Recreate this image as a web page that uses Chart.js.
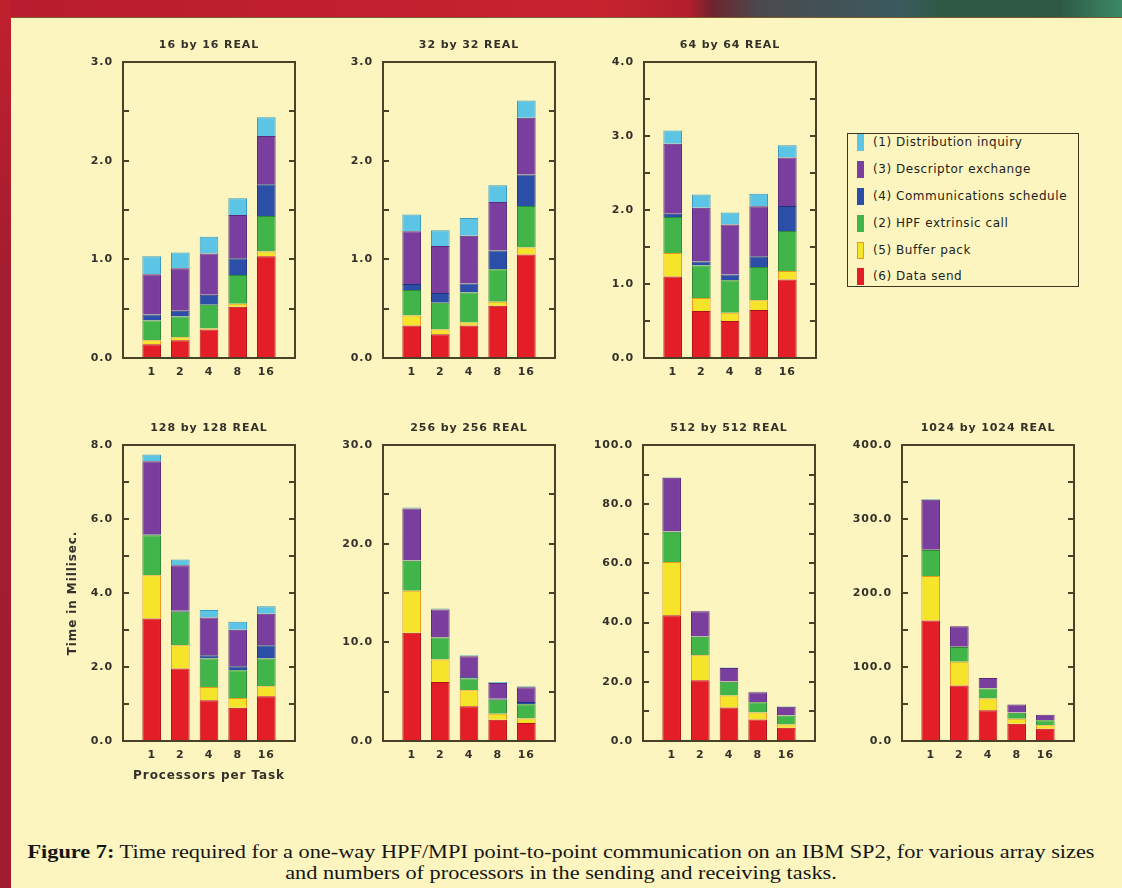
<!DOCTYPE html>
<html>
<head>
<meta charset="utf-8">
<script src="https://cdn.jsdelivr.net/npm/chart.js@4.4.1/dist/chart.umd.min.js"></script>
<style>
html,body{margin:0;padding:0;}
body{width:1122px;height:888px;position:relative;overflow:hidden;background:#fcf5bf;font-family:"DejaVu Sans",sans-serif;}
#topband{position:absolute;left:0;top:0;width:1122px;height:17px;
  background:linear-gradient(90deg,#b81c2e 0px,#c8232f 600px,#b21f2c 690px,#6e2430 712px,#4a4a4e 760px,#3a5a5e 900px,#2f5a46 940px,#2e5a45 1060px,#3c8866 1122px);
  border-bottom:1px solid #7a5a2a;}
#leftband{position:absolute;left:0;top:0;width:11px;height:888px;background:linear-gradient(180deg,#c0202e,#a51d30 30%,#a11c30);}
.pane{position:absolute;}
#legend{position:absolute;left:847px;top:133px;width:230px;height:152px;border:1.5px solid #3d3620;}
.item{position:absolute;left:9px;height:17px;font-size:12px;color:#1e1e1a;letter-spacing:0.55px;white-space:nowrap;}
.sw{position:absolute;left:0;top:0;width:7px;height:17px;box-sizing:border-box;}
.lab{position:absolute;left:16px;top:0px;line-height:16px;}
#caption{position:absolute;left:0;top:842px;width:1122px;text-align:center;font-family:"Liberation Serif",serif;font-size:18px;line-height:21px;color:#151515;transform:scaleX(1.24);transform-origin:561px 0;}
</style>
</head>
<body>
<div id="topband"></div>
<div id="leftband"></div>
<div id="legend"></div>
<div id="caption"><b>Figure 7:</b> Time required for a one-way HPF/MPI point-to-point communication on an IBM SP2, for various array sizes<br>and numbers of processors in the sending and receiving tasks.</div>
<script>
// ---------- data ----------
const procs = ['1', '2', '4', '8', '16'];
const seriesNames = ['(6) Data send', '(5) Buffer pack', '(2) HPF extrinsic call',
                     '(4) Communications schedule', '(3) Descriptor exchange', '(1) Distribution inquiry'];
const legendOrder = [5, 4, 3, 2, 1, 0];
const panelTitles = ['16 by 16 REAL', '32 by 32 REAL', '64 by 64 REAL',
                     '128 by 128 REAL', '256 by 256 REAL', '512 by 512 REAL', '1024 by 1024 REAL'];
const yMaxes = [3, 3, 4, 8, 30, 100, 400];
const yMajors = [1, 1, 1, 2, 10, 20, 100];
const yMinors = [0.5, 0.5, 0.5, 1, 5, 10, 50];

// rows: data send, buffer pack, HPF extrinsic, comm schedule, descriptor exchange, distribution inquiry
const real16 = [
  [0.14, 0.18, 0.29, 0.52, 1.03],
  [0.04, 0.03, 0.01, 0.03, 0.05],
  [0.20, 0.21, 0.24, 0.29, 0.36],
  [0.06, 0.06, 0.10, 0.17, 0.32],
  [0.41, 0.43, 0.42, 0.44, 0.49],
  [0.18, 0.16, 0.17, 0.17, 0.19]
];
const real32 = [
  [0.33, 0.24, 0.33, 0.53, 1.05],
  [0.10, 0.05, 0.03, 0.04, 0.07],
  [0.26, 0.27, 0.305, 0.33, 0.42],
  [0.06, 0.10, 0.09, 0.19, 0.32],
  [0.535, 0.475, 0.485, 0.49, 0.575],
  [0.17, 0.16, 0.18, 0.17, 0.175]
];
const real64 = [
  [1.10, 0.635, 0.50, 0.65, 1.06],
  [0.32, 0.175, 0.11, 0.13, 0.115],
  [0.485, 0.44, 0.44, 0.45, 0.54],
  [0.045, 0.055, 0.08, 0.145, 0.34],
  [0.945, 0.725, 0.675, 0.675, 0.655],
  [0.18, 0.18, 0.16, 0.17, 0.165]
];
const real128 = [
  [3.31, 1.96, 1.10, 0.90, 1.21],
  [1.17, 0.63, 0.36, 0.26, 0.27],
  [1.08, 0.90, 0.77, 0.75, 0.75],
  [0.03, 0.03, 0.09, 0.11, 0.36],
  [1.97, 1.23, 1.02, 0.99, 0.85],
  [0.18, 0.155, 0.20, 0.21, 0.20]
];
const real256 = [
  [10.96, 5.99, 3.52, 2.16, 1.83],
  [4.26, 2.26, 1.62, 0.61, 0.44],
  [3.04, 2.23, 1.19, 1.42, 1.45],
  [0.05, 0.05, 0.15, 0.10, 0.24],
  [5.26, 2.80, 2.11, 1.60, 1.49],
  [0.10, 0.10, 0.10, 0.10, 0.10]
];
const real512 = [
  [42.5, 20.5, 11.3, 7.3, 4.5],
  [18.0, 8.5, 4.1, 2.3, 1.1],
  [10.2, 6.2, 4.6, 3.5, 3.0],
  [0.2, 0.2, 0.1, 0.1, 0.1],
  [18.0, 8.4, 4.6, 3.3, 2.9],
  [0.2, 0.2, 0.1, 0.1, 0.1]
];
const real1024 = [
  [163, 75, 41.5, 23.4, 16.7],
  [60, 32, 16, 6.8, 4.5],
  [35, 20, 13.5, 8.1, 6.8],
  [0.5, 0.5, 0.3, 0.3, 0.2],
  [67.5, 27.5, 13.7, 10.8, 7.2],
  [1, 0.5, 0.3, 0.3, 0.2]
];
const panelData = [real16, real32, real64, real128, real256, real512, real1024];

// ---------- styles / layout ----------
const fills   = ['#e41e26', '#f6e42a', '#41b54a', '#2b4ea8', '#7a3f9e', '#5cc4e4'];
const borders = ['#b01218', '#e89a1a', '#2c8a34', '#1d3478', '#5a2a7a', '#3a9ac0'];
const boxLefts = [123, 383, 644, 123, 383, 643, 902];
const boxTops  = [62, 62, 62, 445, 445, 445, 445];
const BOXW = 172, BOXH = 296, YW = 60, XH = 45, PT = 7, TITLE_PB = 9.8;
const TEXT = '#33312a', FRAME = '#4a4226', LS = '0.9px';

Chart.defaults.font.family = '"DejaVu Sans", sans-serif';
Chart.defaults.font.weight = 'bold';
Chart.defaults.color = TEXT;

const framePlugin = {
  id: 'frame',
  beforeLayout(chart) { chart.ctx.letterSpacing = LS; },
  beforeDraw(chart) { chart.ctx.letterSpacing = LS; },
  afterDatasetsDraw(chart) {
    const {ctx, chartArea: a} = chart;
    const y = chart.scales.y;
    ctx.save();
    ctx.strokeStyle = FRAME;
    ctx.lineWidth = 2;
    ctx.beginPath();
    y.ticks.forEach(t => {
      const py = Math.round(y.getPixelForValue(t.value));
      ctx.moveTo(a.left, py); ctx.lineTo(a.left + 6, py);
      ctx.moveTo(a.right - 6, py); ctx.lineTo(a.right, py);
    });
    ctx.stroke();
    ctx.strokeRect(a.left, a.top, a.right - a.left, a.bottom - a.top);
    ctx.restore();
  }
};

panelData.forEach((rows, p) => {
  const topOverhead = Math.round(PT + 13.2 + TITLE_PB);
  const W = YW + BOXW + YW, H = topOverhead + BOXH + XH;
  const div = document.createElement('div');
  div.className = 'pane';
  div.style.left = (boxLefts[p] - YW) + 'px';
  div.style.top = (boxTops[p] - topOverhead) + 'px';
  div.style.width = W + 'px';
  div.style.height = H + 'px';
  const cv = document.createElement('canvas');
  cv.width = W; cv.height = H;
  cv.style.width = W + 'px'; cv.style.height = H + 'px';
  div.appendChild(cv);
  document.body.appendChild(div);

  const major = yMajors[p];
  const isFirstLower = (p === 3);
  new Chart(cv, {
    type: 'bar',
    data: {
      labels: ['', ...procs, ''],
      datasets: rows.map((vals, s) => ({
        label: seriesNames[s],
        data: [null, ...vals, null],
        backgroundColor: fills[s],
        borderColor: borders[s],
        borderWidth: 1,
        barPercentage: 0.65,
        categoryPercentage: 1
      }))
    },
    options: {
      responsive: false,
      animation: false,
      events: [],
      layout: {padding: {top: PT, left: 0, right: 0, bottom: 0}},
      plugins: {
        legend: {display: false},
        tooltip: {enabled: false},
        title: {display: true, text: panelTitles[p], color: TEXT, align: 'center',
                font: {size: 11, weight: 'bold'}, padding: {top: 0, bottom: TITLE_PB}}
      },
      scales: {
        x: {
          type: 'category', offset: false, stacked: true,
          grid: {display: false, drawTicks: false}, border: {display: false},
          ticks: {padding: 8, color: TEXT, font: {size: 11}, autoSkip: false, maxRotation: 0},
          title: isFirstLower ? {display: true, text: 'Processors per Task', color: TEXT,
                                 font: {size: 12}, padding: {top: 0, bottom: 3}} : {display: false},
          afterFit: s => { s.height = XH; }
        },
        y: {
          stacked: true, min: 0, max: yMaxes[p],
          grid: {display: false, drawTicks: false}, border: {display: false},
          ticks: {stepSize: yMinors[p], padding: 10, color: TEXT, font: {size: 11}, autoSkip: false,
                  callback: v => (Math.abs(v / major - Math.round(v / major)) < 1e-6) ? v.toFixed(1) : ''},
          title: isFirstLower ? {display: true, text: 'Time in Millisec.', color: TEXT,
                                 font: {size: 12}, padding: {top: 3, bottom: 0}} : {display: false},
          afterFit: s => { s.width = YW; }
        },
        yRight: {
          position: 'right', display: true,
          grid: {display: false, drawTicks: false}, border: {display: false},
          ticks: {display: false},
          afterFit: s => { s.width = YW; }
        }
      }
    },
    plugins: [framePlugin]
  });
});

// ---------- legend ----------
const legend = document.getElementById('legend');
const rowTops = [0, 27, 54, 81, 108, 134];
legendOrder.forEach((s, i) => {
  const it = document.createElement('div');
  it.className = 'item';
  it.style.top = rowTops[i] + 'px';
  const sw = document.createElement('div');
  sw.className = 'sw';
  sw.style.background = fills[s];
  if (s === 1) sw.style.border = '1.5px solid ' + borders[s];
  const lab = document.createElement('div');
  lab.className = 'lab';
  lab.textContent = seriesNames[s];
  it.appendChild(sw); it.appendChild(lab);
  legend.appendChild(it);
});
</script>
</body>
</html>
